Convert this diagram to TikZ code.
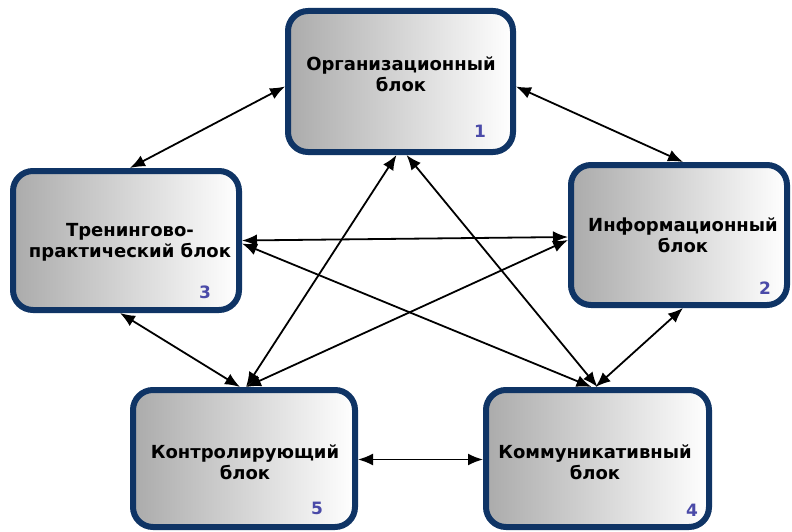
\documentclass[tikz,border=0pt]{standalone}
\usepackage{fontspec}
\setmainfont{DejaVu Sans}
\usetikzlibrary{arrows.meta}
\definecolor{blokborder}{HTML}{0F3465}
\definecolor{nomercolor}{HTML}{4A4AA8}

\begin{document}
\begin{tikzpicture}[x=1pt,y=-1pt,
    blok/.style={draw=blokborder,line width=6pt,rounded corners=20pt,
      left color=black!33,right color=white,inner sep=0pt},
    tekst/.style={align=center,inner sep=0pt,
      font=\fontsize{18}{21}\selectfont\bfseries},
    nomer/.style={text=nomercolor,font=\fontsize{17}{17}\selectfont\bfseries},
    svyaz/.style={{Latex[length=15pt,width=12pt]}-{Latex[length=15pt,width=12pt]},
      line width=1.8pt}
  ]
  \useasboundingbox[fill=white] (0,0) rectangle (792,532);

  \node[blok,minimum width=225pt,minimum height=141pt] (org) at (400.5,81.5) {};
  \node[blok,minimum width=216pt,minimum height=140pt] (info) at (679,235) {};
  \node[blok,minimum width=226pt,minimum height=139pt] (tren) at (126,240.5) {};
  \node[blok,minimum width=223pt,minimum height=137pt] (komm) at (597.5,458.5) {};
  \node[blok,minimum width=222pt,minimum height=137pt] (kontr) at (244,458.5) {};

  \node[tekst] (org-t) at (401,74) {Организационный\\блок};
  \node[tekst] (info-t) at (683,235) {Информационный\\блок};
  \node[tekst] (tren-t) at (130,242) {Тренингово-\\практический блок};
  \node[tekst] (komm-t) at (595,462) {Коммуникативный\\блок};
  \node[tekst] (kontr-t) at (245,462) {Контролирующий\\блок};

  \node[nomer] (n1) at (480,131) {1};
  \node[nomer] (n2) at (765,288) {2};
  \node[nomer] (n3) at (205,292) {3};
  \node[nomer] (n4) at (692,510) {4};
  \node[nomer] (n5) at (317,508) {5};

  \draw[svyaz] ([yshift=-5pt]org.west) -- ([xshift=4pt]tren.north);
  \draw[svyaz] ([yshift=-5pt]org.east) -- ([xshift=4pt]info.north);
  \draw[svyaz] (tren.east) -- ([yshift=-2pt]info.west);
  \draw[svyaz] ([xshift=-6pt]tren.south) -- ([xshift=-4pt]kontr.north);
  \draw[svyaz] ([xshift=4pt]info.south) -- ([xshift=-2pt]komm.north);
  \draw[svyaz] ([yshift=-1pt]kontr.east) -- ([yshift=-1pt]komm.west);
  \draw[svyaz] ([xshift=-4pt]org.south) -- ([xshift=2pt]kontr.north);
  \draw[svyaz] ([xshift=6pt]org.south) -- (komm.north);
  \draw[svyaz] ([yshift=-3pt]tren.east) -- ([xshift=-6pt]komm.north);
  \draw[svyaz] ([yshift=-5pt]info.west) -- ([xshift=2pt]kontr.north);
\end{tikzpicture}
\end{document}
